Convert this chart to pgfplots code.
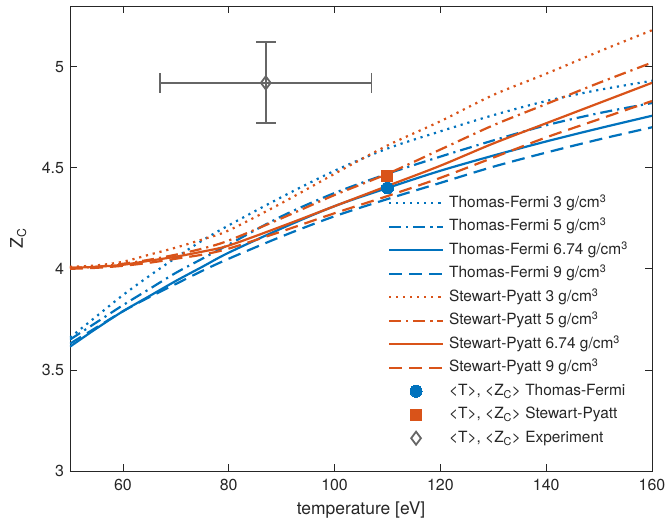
\documentclass[border=0pt]{standalone}
\usepackage{fontspec}
\setmainfont{TeX Gyre Heros}
\usepackage{pgfplots}
\pgfplotsset{compat=1.18}
\definecolor{tfblue}{RGB}{0,114,189}
\definecolor{sporange}{RGB}{217,83,25}
\definecolor{expgray}{RGB}{102,102,102}
\definecolor{axgray}{RGB}{38,38,38}
\tikzset{
  dotl/.style={dash pattern=on 2.2bp off 4.8bp},
  dashl/.style={dash pattern=on 13bp off 7bp},
  dashdotl/.style={dash pattern=on 12bp off 5bp on 2.2bp off 5bp},
}
\begin{document}
\begin{tikzpicture}
\useasboundingbox (-70bp,-50bp) rectangle (596bp,471bp);
\begin{axis}[
  scale only axis, width=582bp, height=465bp,
  xmin=50, xmax=160, ymin=3, ymax=5.3,
  xtick={60,80,100,120,140,160}, ytick={3,3.5,4,4.5,5},
  tick align=inside, major tick length=7bp,
  axis line style={axgray, line width=0.8bp},
  every tick/.style={axgray, line width=0.8bp},
  ticklabel style={font=\fontsize{16}{19}\selectfont, text=axgray},
  xticklabel style={yshift=-5bp},
  yticklabel style={xshift=-2.5bp},
  /pgf/number format/assume math mode=true,
  xlabel={temperature [eV]}, ylabel={Z\textsubscript{C}},
  label style={font=\fontsize{17.5}{20}\selectfont, text=axgray},
  xlabel style={at={(axis description cs:0.5,-0.085)}, anchor=center},
  ylabel style={at={(axis description cs:-0.089,0.5)}, anchor=center, rotate=0},
  legend cell align=left,
  legend image code/.code={\draw[mark repeat=2,mark phase=2,#1] plot coordinates {(0bp,0bp) (27bp,0bp) (54bp,0bp)};},
  legend style={draw=none, fill=none, at={(0.546,0.5935)}, anchor=north west,
    font=\fontsize{15.5}{18}\selectfont, text=axgray, inner sep=0pt,
    nodes={inner sep=0pt, text height=12bp, text depth=4bp},
    row sep=7.5bp, column sep=5bp},
  every axis plot/.append style={line width=2.2bp},
]
\addplot[tfblue, dotl, smooth] coordinates {(50,3.66)(55,3.765)(60,3.87)(65,3.965)(70,4.055)(75,4.14)(80,4.215)(90,4.355)(100,4.485)(110,4.595)(120,4.68)(130,4.76)(140,4.83)(150,4.885)(160,4.93)};
\addlegendentry{Thomas-Fermi 3 g/cm\textsuperscript{3}}
\addplot[tfblue, dashdotl, smooth] coordinates {(50,3.65)(55,3.735)(60,3.82)(65,3.90)(70,3.98)(75,4.05)(80,4.12)(90,4.26)(100,4.375)(110,4.47)(120,4.555)(130,4.635)(140,4.71)(150,4.77)(160,4.82)};
\addlegendentry{Thomas-Fermi 5 g/cm\textsuperscript{3}}
\addplot[tfblue, smooth] coordinates {(50,3.615)(55,3.705)(60,3.79)(65,3.865)(70,3.94)(75,4.01)(80,4.08)(90,4.20)(100,4.31)(110,4.40)(120,4.485)(130,4.56)(140,4.63)(150,4.695)(160,4.757)};
\addlegendentry{Thomas-Fermi 6.74 g/cm\textsuperscript{3}}
\addplot[tfblue, dashl, smooth] coordinates {(50,3.63)(55,3.71)(60,3.79)(65,3.86)(70,3.925)(75,3.99)(80,4.05)(90,4.16)(100,4.26)(110,4.345)(120,4.425)(130,4.505)(140,4.575)(150,4.64)(160,4.70)};
\addlegendentry{Thomas-Fermi 9 g/cm\textsuperscript{3}}
\addplot[sporange, dotl, smooth] coordinates {(50,4.01)(55,4.017)(60,4.035)(65,4.07)(70,4.105)(75,4.145)(80,4.19)(90,4.325)(100,4.47)(110,4.61)(120,4.73)(130,4.86)(140,4.965)(150,5.075)(160,5.18)};
\addlegendentry{Stewart-Pyatt 3 g/cm\textsuperscript{3}}
\addplot[sporange, dashdotl, smooth] coordinates {(50,4.005)(55,4.01)(60,4.025)(65,4.045)(70,4.07)(75,4.10)(80,4.14)(90,4.25)(100,4.365)(110,4.47)(120,4.59)(130,4.71)(140,4.815)(150,4.92)(160,5.02)};
\addlegendentry{Stewart-Pyatt 5 g/cm\textsuperscript{3}}
\addplot[sporange, smooth] coordinates {(50,4.005)(55,4.01)(60,4.02)(65,4.04)(70,4.06)(75,4.085)(80,4.115)(90,4.21)(100,4.31)(110,4.41)(120,4.51)(130,4.62)(140,4.72)(150,4.82)(160,4.92)};
\addlegendentry{Stewart-Pyatt 6.74 g/cm\textsuperscript{3}}
\addplot[sporange, dashl, smooth] coordinates {(50,4.0)(55,4.005)(60,4.015)(65,4.03)(70,4.05)(75,4.07)(80,4.10)(90,4.185)(100,4.275)(110,4.36)(120,4.45)(130,4.55)(140,4.65)(150,4.74)(160,4.83)};
\addlegendentry{Stewart-Pyatt 9 g/cm\textsuperscript{3}}
\addplot[tfblue, only marks, mark=*, mark size=6bp, mark options={solid, fill=tfblue, draw=tfblue, line width=0bp}] coordinates {(110,4.40)};
\addlegendentry{<T>, <Z\textsubscript{C}> Thomas-Fermi}
\addplot[sporange, only marks, mark=square*, mark size=5.5bp, mark options={solid, fill=sporange, draw=sporange, line width=0bp}] coordinates {(110,4.46)};
\addlegendentry{<T>, <Z\textsubscript{C}> Stewart-Pyatt}
\addplot[expgray, only marks, mark=diamond, mark size=6.5bp, mark options={solid, fill=white, draw=expgray, line width=1.8bp},
  error bars/.cd, x dir=both, x explicit, y dir=both, y explicit,
  error mark=|,
  error bar style={expgray, line width=1.8bp, solid},
  error mark options={expgray, line width=1.8bp, mark size=10bp}]
  coordinates {(87,4.92) +- (20,0.2)};
\addlegendentry{<T>, <Z\textsubscript{C}> Experiment}
\end{axis}
\end{tikzpicture}
\end{document}
